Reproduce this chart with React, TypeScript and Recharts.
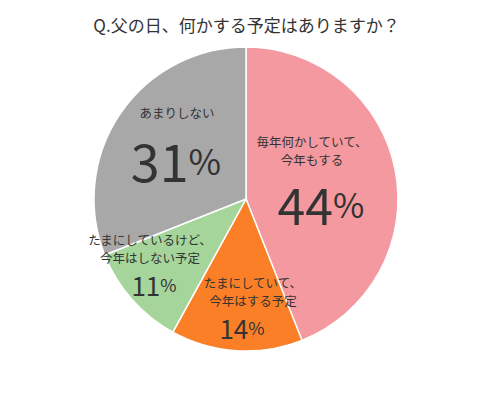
import { Cell, Pie, PieChart } from "recharts";

const title = "Q.父の日、何かする予定はありますか？";
const answers = [
  ["毎年何かしていて、", "今年もする"],
  ["たまにしていて、", "今年はする予定"],
  ["たまにしているけど、", "今年はしない予定"],
  ["あまりしない"],
];
const shares = [44, 14, 11, 31];
const colors = ["#f4999f", "#fb7f27", "#a5d59b", "#a8a8a8"];

const data = answers.map((lines, i) => ({ name: lines.join(""), value: shares[i] }));

// label placement: number centre relative to pie centre, text offsets relative to number
const labelLayout = [
  { dx: 75, dy: 4, size: 50, tx: -9, ty: [-62, -44] },
  { dx: -4, dy: 128, size: 26, tx: 11, ty: [-45, -27] },
  { dx: -92, dy: 85, size: 26, tx: -4, ty: [-45, -27] },
  { dx: -70, dy: -40, size: 52, tx: 1, ty: [-47] },
];

const font = "'Noto Sans CJK JP', 'Noto Sans', sans-serif";
const ink = "#333333";

function SliceLabel(props: any) {
  const { cx, cy, index } = props;
  const l = labelLayout[index];
  const x = cx + l.dx;
  const y = cy + l.dy;
  return (
    <g fontFamily={font} fill={ink}>
      {answers[index].map((line, j) => (
        <text
          key={j}
          x={x + l.tx}
          y={y + l.ty[j]}
          textAnchor="middle"
          dominantBaseline="central"
          fontSize={12.5}
        >
          {line}
        </text>
      ))}
      <text x={x} y={y} textAnchor="middle" dominantBaseline="central" fontSize={l.size} fontWeight={400}>
        {shares[index]}
        <tspan fontSize={l.size * 0.68}>%</tspan>
      </text>
    </g>
  );
}

export default function App() {
  return (
    <div style={{ position: "relative", width: 493, height: 393, background: "#fff" }}>
      <style>{`body{margin:0}`}</style>
      <div
        style={{
          position: "absolute",
          top: 14,
          left: 0,
          width: 493,
          textAlign: "center",
          fontFamily: font,
          fontSize: 17,
          lineHeight: "22px",
          color: ink,
        }}
      >
        {title}
      </div>
      <PieChart width={493} height={393} margin={{ top: 0, right: 0, bottom: 0, left: 0 }}>
        <Pie
          data={data}
          dataKey="value"
          cx={246}
          cy={199}
          outerRadius={152}
          startAngle={90}
          endAngle={-270}
          stroke="#ffffff"
          strokeWidth={1.5}
          label={SliceLabel}
          labelLine={false}
          isAnimationActive={false}
        >
          {data.map((d, i) => (
            <Cell key={d.name} fill={colors[i]} />
          ))}
        </Pie>
      </PieChart>
    </div>
  );
}
